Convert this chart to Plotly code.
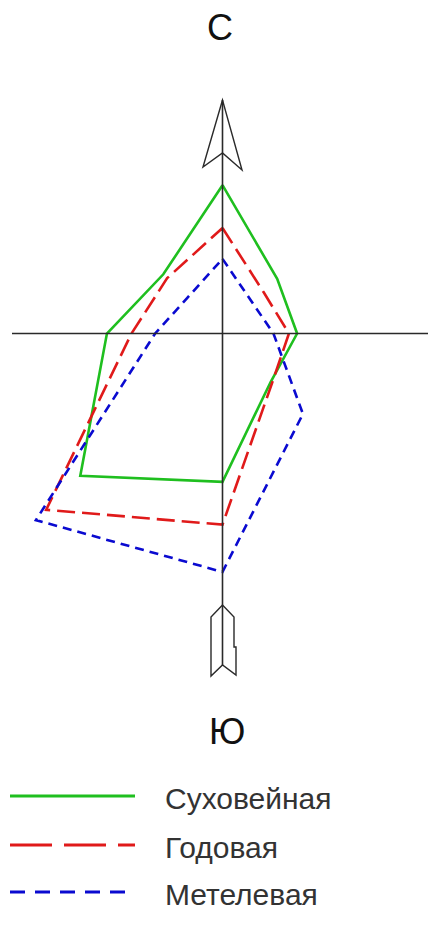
import numpy as np
import plotly.graph_objects as go

# Роза ветров: 8 румбов, повторяемость в %
directions = ["С", "СВ", "В", "ЮВ", "Ю", "ЮЗ", "З", "СЗ"]
angles_deg = [0, 45, 90, 135, 180, 225, 270, 315]

dry_wind = [16.3, 8.5, 8.2, 7.5, 16.3, 22.1, 12.7, 9.2]   # Суховейная
annual = [11.6, 6.4, 7.3, 7.7, 21.0, 27.4, 10.0, 8.6]     # Годовая
blizzard = [8.2, 4.7, 5.6, 12.5, 26.2, 29.0, 7.4, 5.5]    # Метелевая

series_names = ["Суховейная", "Годовая", "Метелевая"]
series_colors = ["#1fbf1f", "#e01a1a", "#0a0ad0"]
series_dash = ["solid", "18px,7px", "9px,6px"]
legend_dash = ["solid", "42px,12px", "15px,10px"]

W, H = 431, 930
PX = 9.1                 # пикселей на 1 %
CX, CY = 222.5, 333.5    # центр розы в пикселях


def to_xy(values):
    a = np.radians(angles_deg + [angles_deg[0]])
    v = np.array(values + [values[0]])
    return v * np.sin(a), v * np.cos(a)


def px(x, y):
    # пиксели -> координаты осей (для оформления)
    return (x - CX) / PX, (CY - y) / PX


fig = go.Figure()
for vals, name, col, dash in zip([dry_wind, annual, blizzard], series_names, series_colors, series_dash):
    x, y = to_xy(vals)
    fig.add_trace(go.Scatter(x=x, y=y, mode="lines", name=name, showlegend=False,
                             line=dict(color=col, width=2.6, dash=dash)))

axis_col = "#2a2a2a"
shapes = []
# оси
x0, _ = px(12, 0)
x1, _ = px(428, 0)
shapes.append(dict(type="line", x0=x0, x1=x1, y0=0, y1=0, line=dict(color=axis_col, width=1.6)))
_, yt = px(0, 100)
_, yb = px(0, 665)
shapes.append(dict(type="line", x0=0, x1=0, y0=yt, y1=yb, line=dict(color=axis_col, width=1.6)))


def path(points):
    pts = [px(a, b) for a, b in points]
    return "M " + " L ".join(f"{p[0]:.3f},{p[1]:.3f}" for p in pts) + " Z"


# стрелка на север
shapes.append(dict(type="path", path=path([(222.5, 100), (203, 167), (222.5, 153), (242, 170)]),
                   line=dict(color=axis_col, width=1.4), fillcolor="rgba(0,0,0,0)"))
# оперение на юге
shapes.append(dict(type="path",
                   path=path([(222.5, 605), (211, 617), (211, 676), (222.5, 665), (236, 675),
                              (236, 647), (234, 647), (234, 617)]),
                   line=dict(color=axis_col, width=1.4), fillcolor="rgba(0,0,0,0)"))

# легенда
legend_y = [796, 845, 892]
for ly, col, dash in zip(legend_y, series_colors, legend_dash):
    shapes.append(dict(type="line", xref="paper", yref="paper",
                       x0=10 / W, x1=135 / W, y0=1 - ly / H, y1=1 - ly / H,
                       line=dict(color=col, width=3, dash=dash)))

annotations = [
    dict(text="С", x=220 / W, y=1 - 27 / H),
    dict(text="Ю", x=227 / W, y=1 - 731 / H),
]
for a in annotations:
    a.update(xref="paper", yref="paper", showarrow=False, xanchor="center", yanchor="middle",
             font=dict(size=36, color="#111", family="Liberation Sans"))
for ly, name in zip(legend_y, series_names):
    annotations.append(dict(text=name, x=163 / W, y=1 - (ly + 2) / H, xref="paper", yref="paper",
                            showarrow=False, xanchor="left", yanchor="middle",
                            font=dict(size=30, color="#333", family="Liberation Sans")))

fig.update_layout(
    width=W, height=H,
    margin=dict(l=0, r=0, t=0, b=0),
    paper_bgcolor="white", plot_bgcolor="white",
    xaxis=dict(range=[-CX / PX, (W - CX) / PX], visible=False, fixedrange=True),
    yaxis=dict(range=[-(H - CY) / PX, CY / PX], visible=False, fixedrange=True),
    shapes=shapes,
    annotations=annotations,
)

fig.write_html("out.html", config={"displayModeBar": False},
               post_script="document.body.style.margin='0';")
